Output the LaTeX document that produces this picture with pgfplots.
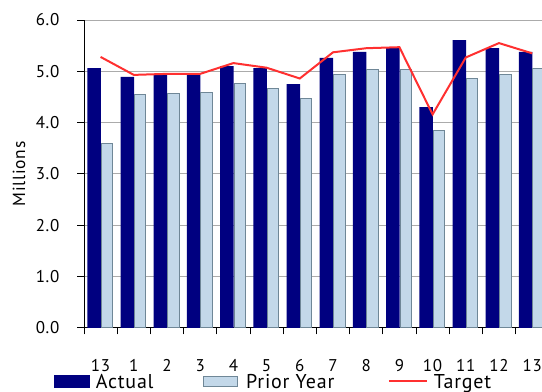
\documentclass[border=0pt]{standalone}
\usepackage{pgfplots}
\pgfplotsset{compat=1.18}
\usepackage{fontspec}
\setmainfont{PT Sans}[LetterSpace=4]

\definecolor{actualblue}{HTML}{000080}
\definecolor{prioryear}{HTML}{C3D8E9}
\definecolor{priorborder}{HTML}{6F8797}
\definecolor{targetred}{HTML}{FF3030}
\definecolor{gridgray}{HTML}{ABABAB}

\begin{document}
\begin{tikzpicture}
\begin{axis}[
  name=main,
  scale only axis,
  width=464.8pt, height=307.8pt,
  xmin=-0.5, xmax=13.5, ymin=0, ymax=6,
  axis lines=left,
  axis line style={-, black, line width=0.9pt},
  xtick={0,...,13},
  xticklabels={13,1,2,3,4,5,6,7,8,9,10,11,12,13},
  minor xtick={-0.5,0.5,...,13.5},
  ytick={0,1,...,6},
  tick align=outside,
  major tick length=6.5pt, minor tick length=6.5pt,
  tick style={black, line width=0.9pt},
  major x tick style={draw=none},
  ymajorgrids,
  grid style={gridgray, line width=1pt},
  /pgf/number format/assume math mode=true,
  yticklabel style={/pgf/number format/.cd, fixed, fixed zerofill, precision=1,
    /tikz/.cd, font=\fontsize{17}{20}\selectfont, inner sep=0pt, anchor=east, xshift=-18pt},
  xticklabel style={font=\fontsize{17}{20}\selectfont, inner sep=0pt, anchor=north, yshift=-25pt},
  ylabel={Millions},
  ylabel style={at={(axis description cs:-0.1398,0.5)}, anchor=center, font=\fontsize{17.5}{21}\selectfont, inner sep=0pt},
  legend columns=3,
  legend style={at={(axis description cs:-0.066,-0.1777)}, anchor=west,
    draw=none, fill=none, inner sep=0pt, column sep=0pt, row sep=0pt,
    font=\fontsize{20}{24}\selectfont,
    nodes={inner sep=0pt, anchor=base west}},
]
% Actual
\addplot[ybar, bar width=13.5pt, bar shift=-6.5pt, fill=actualblue, draw=none,
  legend image code/.code={\fill[actualblue] (0pt,0.7pt) rectangle (36.7pt,14pt); \path (42.3pt,0pt);}]
  coordinates {(0,5.06) (1,4.89) (2,4.93) (3,4.93) (4,5.10) (5,5.06) (6,4.75)
               (7,5.26) (8,5.38) (9,5.45) (10,4.30) (11,5.61) (12,5.45) (13,5.38)};
\addlegendentry{\makebox[106.7pt][l]{Actual}}
% Prior Year
\addplot[ybar, bar width=11.5pt, bar shift=6.4pt, fill=prioryear, draw=priorborder, line width=0.9pt,
  legend image code/.code={\filldraw[fill=prioryear, draw=priorborder, line width=0.9pt] (0pt,2.5pt) rectangle (34.4pt,12.5pt); \path (42.7pt,0pt);}]
  coordinates {(0,3.59) (1,4.54) (2,4.56) (3,4.58) (4,4.76) (5,4.67) (6,4.47)
               (7,4.93) (8,5.04) (9,5.04) (10,3.85) (11,4.86) (12,4.93) (13,5.06)};
\addlegendentry{\makebox[141.7pt][l]{Prior Year}}
% Target
\addplot[sharp plot, targetred, line width=2pt, mark=none,
  legend image code/.code={\draw[targetred, line width=2pt] (0pt,7.7pt) -- (38.3pt,7.7pt); \path (44pt,0pt);}]
  coordinates {(0,5.28) (1,4.93) (2,4.95) (3,4.95) (4,5.16) (5,5.07) (6,4.86)
               (7,5.37) (8,5.45) (9,5.47) (10,4.16) (11,5.27) (12,5.55) (13,5.35)};
\addlegendentry{Target}
\end{axis}
\pgfresetboundingbox
\path[use as bounding box] ([xshift=-84pt,yshift=-64.2pt]main.south west) rectangle ([xshift=458pt,yshift=20pt]main.north west);
\end{tikzpicture}
\end{document}
